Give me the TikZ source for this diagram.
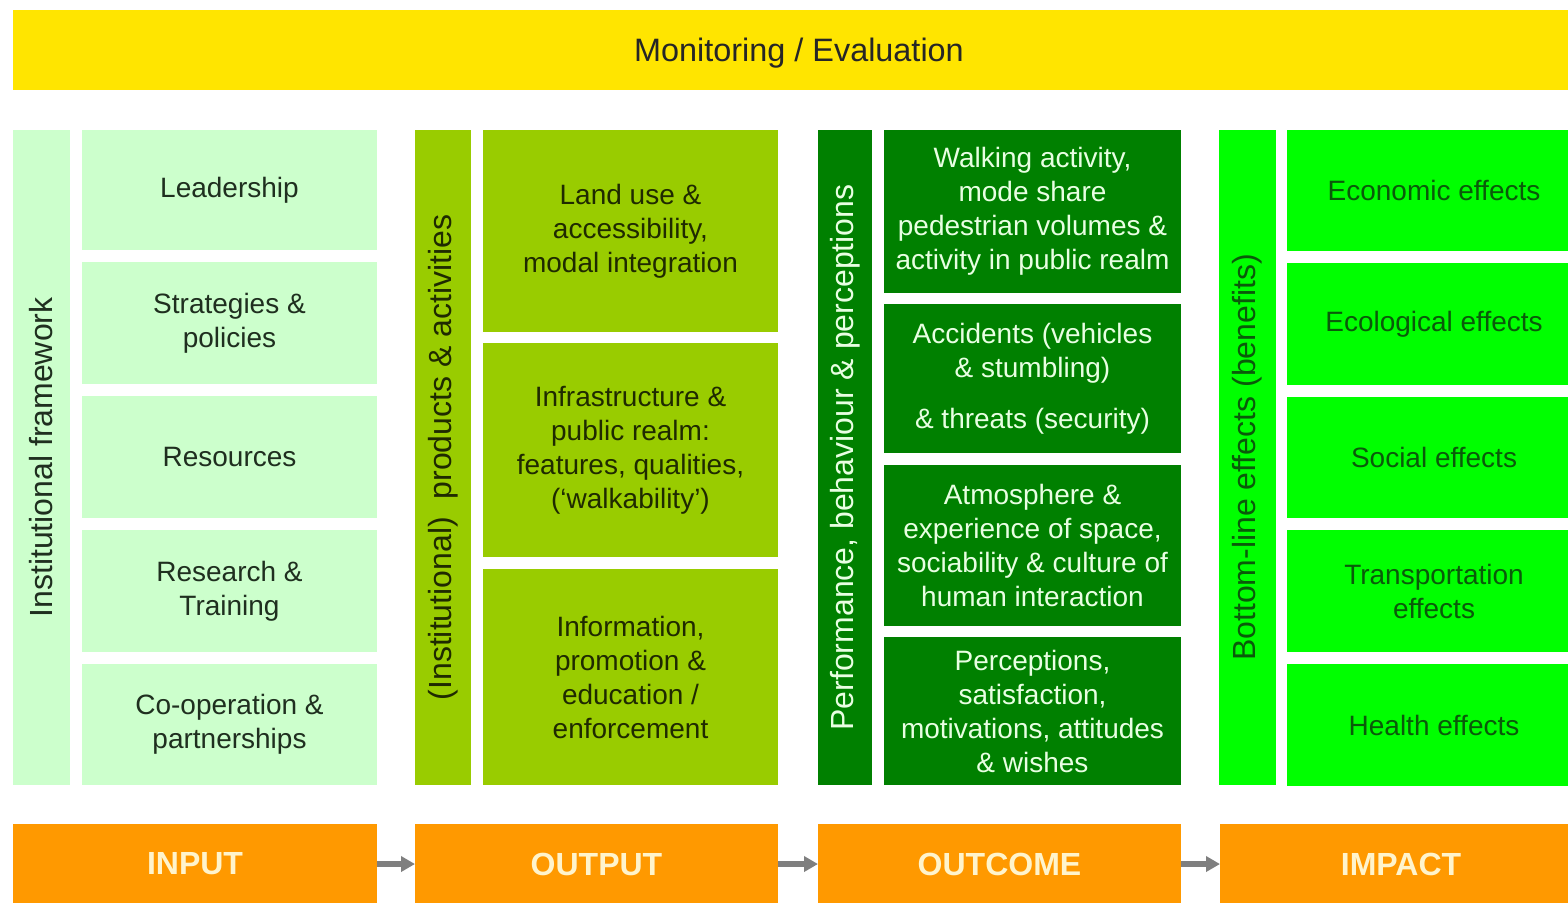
\documentclass[tikz,border=0pt]{standalone}
\usepackage{fontspec}
\setmainfont{Liberation Sans}
\usetikzlibrary{arrows.meta}
\definecolor{mYellow}{HTML}{FFE500}
\definecolor{mOrange}{HTML}{FF9900}
\definecolor{cOne}{HTML}{CCFFCC}
\definecolor{cTwo}{HTML}{99CC00}
\definecolor{cThree}{HTML}{008000}
\definecolor{cFour}{HTML}{00FF00}
\definecolor{tOne}{HTML}{1F2F1F}
\definecolor{tTwo}{HTML}{1F2A00}
\definecolor{tThree}{HTML}{E8FFE2}
\definecolor{tFour}{HTML}{0A5A0A}
\definecolor{tOrange}{HTML}{FFF4CC}
\definecolor{arrGray}{HTML}{7F7F7F}
\tikzset{
  cell/.style={inner sep=0pt, outer sep=0pt, align=center,
    font=\fontsize{14}{17}\selectfont},
  vbar/.style={cell, rotate=90, minimum width=327.5pt,
    font=\fontsize{16}{19}\selectfont},
  one/.style={cell, fill=cOne, text=tOne, minimum width=147.5pt},
  two/.style={cell, fill=cTwo, text=tTwo, minimum width=147.5pt},
  three/.style={cell, fill=cThree, text=tThree, minimum width=148.5pt},
  four/.style={cell, fill=cFour, text=tFour, minimum width=147pt},
  stage/.style={cell, fill=mOrange, text=tOrange, minimum height=40pt,
    font=\fontsize{16}{19}\selectfont\bfseries},
  flow/.style={draw=arrGray, line width=2.6pt,
    -{Triangle[length=7pt,width=7.5pt]}}
}
\begin{document}
\begin{tikzpicture}[x=0.5pt,y=-0.5pt]
\useasboundingbox (0,0) rectangle (1568,902);
\clip (0,0) rectangle (1568,902);
\fill[white] (0,0) rectangle (1568,902);

% monitoring bar
\node[cell, fill=mYellow, text=black!85, minimum width=786pt, minimum height=40pt,
  text depth=0pt, font=\fontsize{16.2}{19}\selectfont] (mon) at (799,50) {Monitoring / Evaluation};

% column 1
\node[vbar, fill=cOne, text=tOne, minimum height=28.5pt] (c1bar) at (41.5,457.5) {Institutional framework};
\node[one, minimum height=60pt]   (c1a) at (229.5,190)   {Leadership};
\node[one, minimum height=61pt]   (c1b) at (229.5,323)   {Strategies \&\\policies};
\node[one, minimum height=61pt]   (c1c) at (229.5,457)   {Resources};
\node[one, minimum height=61pt]   (c1d) at (229.5,591)   {Research \&\\Training};
\node[one, minimum height=60.5pt] (c1e) at (229.5,724.5) {Co-operation \&\\partnerships};

% column 2
\node[vbar, fill=cTwo, text=tTwo, minimum height=28pt] (c2bar) at (443,457.5) {(Institutional)\ \ products \& activities};
\node[two, minimum height=101pt] (c2a) at (630.5,231) {Land use \&\\accessibility,\\modal integration};
\node[two, minimum height=107pt] (c2b) at (630.5,450) {Infrastructure \&\\public realm:\\features, qualities,\\(‘walkability’)};
\node[two, minimum height=108pt] (c2c) at (630.5,677) {Information,\\promotion \&\\education /\\enforcement};

% column 3
\node[vbar, fill=cThree, text=tThree, minimum height=27pt] (c3bar) at (845,457.5) {Performance, behaviour \& perceptions};
\node[three, minimum height=81.5pt] (c3a) at (1032.5,211.5) {Walking activity,\\mode share\\pedestrian volumes \&\\activity in public realm};
\node[three, minimum height=74.5pt] (c3b) at (1032.5,378.5) {Accidents (vehicles\\\& stumbling)\\[8.5pt]\& threats (security)};
\node[three, minimum height=80.5pt] (c3c) at (1032.5,545.5) {Atmosphere \&\\experience of space,\\sociability \& culture of\\human interaction};
\node[three, minimum height=74pt]   (c3d) at (1032.5,711)   {Perceptions,\\satisfaction,\\motivations, attitudes\\\& wishes};

% column 4
\node[vbar, fill=cFour, text=tFour, minimum height=28.5pt] (c4bar) at (1247.5,457.5) {Bottom-line effects (benefits)};
\node[four, minimum height=60.5pt] (c4a) at (1434,190.5) {Economic effects};
\node[four, minimum height=61pt]   (c4b) at (1434,324)   {Ecological effects};
\node[four, minimum height=60.5pt] (c4c) at (1434,457.5) {Social effects};
\node[four, minimum height=61pt]   (c4d) at (1434,591)   {Transportation\\effects};
\node[four, minimum height=61pt]   (c4e) at (1434,725)   {Health effects};

% stages
\node[stage, minimum width=182pt]   (inp)  at (195,864)    {INPUT};
\node[stage, minimum width=181.5pt] (outp) at (596.5,864)  {OUTPUT};
\node[stage, minimum width=181.5pt] (outc) at (999.5,864)  {OUTCOME};
\node[stage, minimum width=181pt]   (imp)  at (1401,864)   {IMPACT};

\draw[flow] (inp.east) -- (outp.west);
\draw[flow] (outp.east) -- (outc.west);
\draw[flow] (outc.east) -- (imp.west);
\end{tikzpicture}
\end{document}
